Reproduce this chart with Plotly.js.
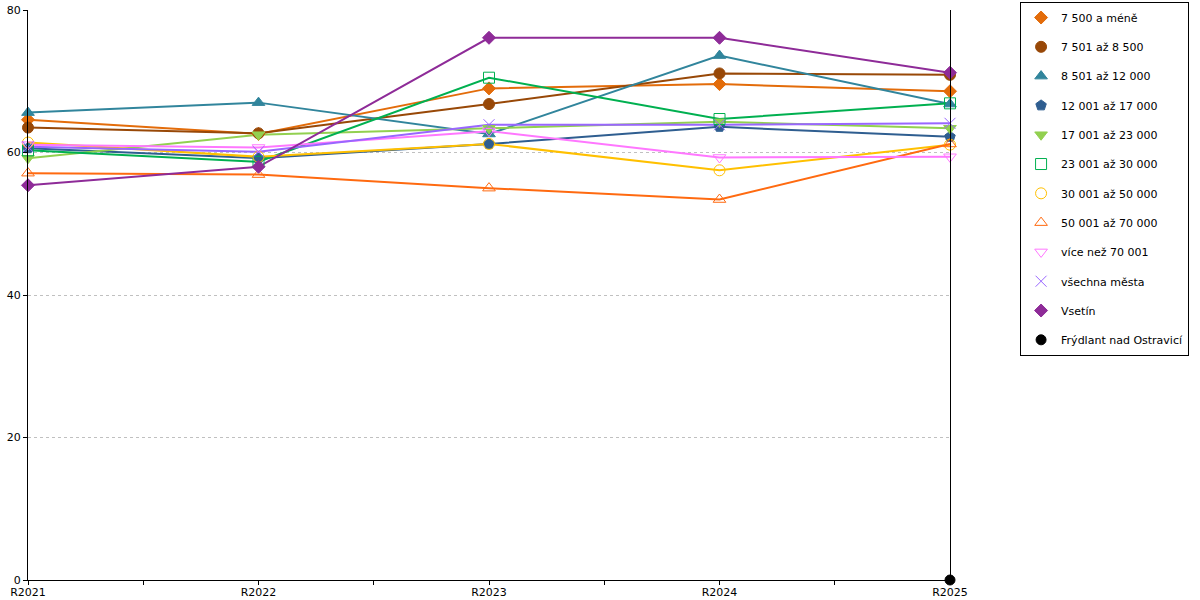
<!DOCTYPE html>
<html>
<head>
<meta charset="utf-8">
<script src="https://cdn.plot.ly/plotly-3.0.1.min.js"></script>
<style>
  html, body { margin: 0; padding: 0; background: #fff; }
  #chart { width: 1200px; height: 600px; }
</style>
</head>
<body>
<div id="chart"></div>
<script>
// Years on the x axis
const years = ['R2021', 'R2022', 'R2023', 'R2024', 'R2025'];

// Series names (town size groups + two towns)
const seriesNames = [
  '7 500 a méně',
  '7 501 až 8 500',
  '8 501 až 12 000',
  '12 001 až 17 000',
  '17 001 až 23 000',
  '23 001 až 30 000',
  '30 001 až 50 000',
  '50 001 až 70 000',
  'více než 70 001',
  'všechna města',
  'Vsetín',
  'Frýdlant nad Ostravicí'
];

// Values, one array per series
const v7500     = [64.6, 62.6, 69.0, 69.6, 68.6];
const v8500     = [63.5, 62.7, 66.8, 71.1, 70.9];
const v12000    = [65.6, 67.0, 62.6, 73.6, 66.8];
const v17000    = [60.6, 59.2, 61.2, 63.6, 62.2];
const v23000    = [59.2, 62.5, 63.4, 64.3, 63.4];
const v30000    = [60.3, 58.7, 70.5, 64.7, 66.9];
const v50000    = [61.4, 59.4, 61.2, 57.5, 61.1];
const v70000    = [57.1, 56.9, 55.0, 53.4, 61.2];
const vOver70   = [61.1, 60.7, 63.0, 59.3, 59.4];
const vAll      = [60.8, 60.1, 63.9, 63.9, 64.1];
const vVsetin   = [55.4, 58.0, 76.1, 76.1, 71.2];
const vFrydlant = [null, null, null, null, 0];

const seriesValues = [v7500, v8500, v12000, v17000, v23000, v30000,
                      v50000, v70000, vOver70, vAll, vVsetin, vFrydlant];

// Styling per series
const colors = ['#e36c0a', '#984807', '#31859c', '#2f5e90', '#92d050', '#00b050',
                '#ffc000', '#ff6a10', '#ff77ff', '#9966ff', '#8e2b98', '#000000'];
const symbols = ['diamond', 'circle', 'triangle-up', 'pentagon', 'triangle-down', 'square-open',
                 'circle-open', 'triangle-up-open', 'triangle-down-open', 'x-thin-open', 'diamond', 'circle'];
const sizes = [10, 11, 11, 11, 11, 11, 11, 11, 11, 11, 10, 10];

const xIdx = years.map((_, i) => i);

// lines first (no legend entry), then markers on top (legend shows only the marker)
const lineTraces = seriesNames.map((name, i) => ({
  type: 'scatter',
  mode: 'lines',
  name: name,
  legendgroup: 'g' + i,
  showlegend: false,
  x: xIdx,
  y: seriesValues[i],
  cliponaxis: false,
  line: { color: colors[i], width: 2 }
}));

const markerTraces = seriesNames.map((name, i) => ({
  type: 'scatter',
  mode: 'markers',
  name: name,
  legendgroup: 'g' + i,
  x: xIdx,
  y: seriesValues[i],
  cliponaxis: false,
  marker: {
    symbol: symbols[i],
    size: sizes[i],
    color: colors[i],
    line: { color: colors[i], width: 1 }
  }
}));

const halfTicks = [];
for (let t = 0; t <= years.length - 1; t += 0.5) halfTicks.push(t);
const halfText = halfTicks.map(t => Number.isInteger(t) ? years[t] : '');

const font = { family: 'DejaVu Sans, sans-serif', size: 11, color: '#000' };

const layout = {
  width: 1200,
  height: 600,
  margin: { l: 28, r: 250, t: 10, b: 20, autoexpand: false },
  paper_bgcolor: '#fff',
  plot_bgcolor: '#fff',
  font: font,
  showlegend: true,
  xaxis: {
    range: [0, 4],
    tickmode: 'array',
    tickvals: halfTicks,
    ticktext: halfText,
    ticks: 'outside',
    ticklen: 4,
    ticklabelstandoff: -2,
    tickcolor: '#000',
    showline: true,
    linecolor: '#000',
    linewidth: 1,
    showgrid: false,
    zeroline: false,
    tickfont: font
  },
  xaxis2: {
    overlaying: 'x',
    matches: 'x',
    range: [0, 4],
    tickmode: 'array',
    tickvals: halfTicks,
    ticks: 'inside',
    ticklen: 4,
    tickcolor: '#000',
    showticklabels: false,
    showline: false,
    showgrid: false,
    zeroline: false
  },
  yaxis: {
    range: [0, 80],
    dtick: 20,
    ticks: 'outside',
    ticklen: 4,
    tickcolor: '#000',
    showline: true,
    linecolor: '#000',
    linewidth: 1,
    mirror: true,
    showgrid: true,
    gridcolor: '#c0c0c0',
    griddash: 'dot',
    zeroline: false,
    tickfont: font
  },
  legend: {
    x: 1.076,
    xanchor: 'left',
    y: 1.014,
    yanchor: 'top',
    bordercolor: '#000',
    borderwidth: 1,
    bgcolor: '#fff',
    traceorder: 'grouped',
    tracegroupgap: 10.3,
    itemwidth: 30,
    maxheight: 600,
    font: font
  }
};

Plotly.newPlot('chart', lineTraces.concat(markerTraces), layout, { displayModeBar: false, staticPlot: true });
</script>
</body>
</html>
